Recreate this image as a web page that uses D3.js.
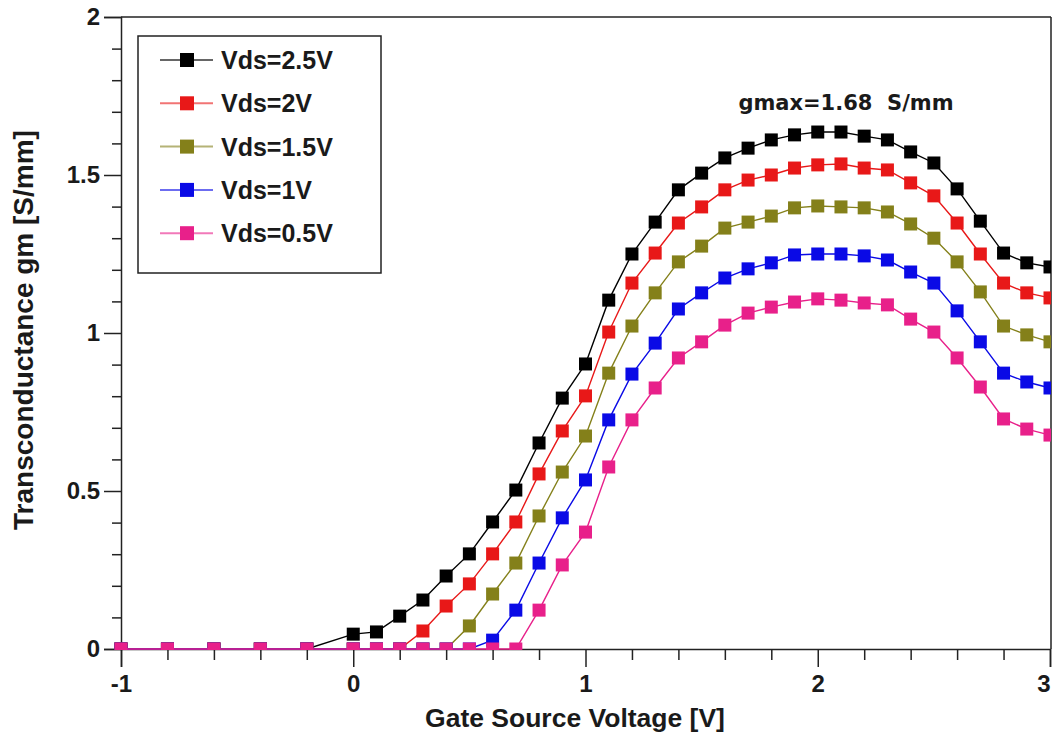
<!DOCTYPE html>
<html>
<head>
<meta charset="utf-8">
<script src="https://cdn.jsdelivr.net/npm/d3@7/dist/d3.min.js"></script>
<style>
  html, body { margin: 0; padding: 0; background: #fff; }
  svg { display: block; }
  text { font-family: "Liberation Sans", Arial, sans-serif; font-weight: bold; fill: #1a1a1a; }
</style>
</head>
<body>
<svg id="chart" width="1053" height="738"></svg>
<script>
// Gate-source voltage sweep [V]
const vgs = [-1, -0.8, -0.6, -0.4, -0.2,
  0, 0.1, 0.2, 0.3, 0.4, 0.5, 0.6, 0.7, 0.8, 0.9,
  1, 1.1, 1.2, 1.3, 1.4, 1.5, 1.6, 1.7, 1.8, 1.9,
  2, 2.1, 2.2, 2.3, 2.4, 2.5, 2.6, 2.7, 2.8, 2.9, 3];

// Transconductance gm [S/mm] for each drain-source bias
const gmVds25 = [0, 0, 0, 0, 0,
  0.047, 0.054, 0.104, 0.155, 0.231, 0.301, 0.402, 0.503, 0.652, 0.794,
  0.902, 1.104, 1.25, 1.351, 1.453, 1.506, 1.554, 1.585, 1.611, 1.627,
  1.636, 1.636, 1.623, 1.611, 1.573, 1.538, 1.456, 1.354, 1.253, 1.222, 1.209];
const gmVds20 = [0, 0, 0, 0, 0,
  0, 0, 0, 0.057, 0.136, 0.206, 0.301, 0.402, 0.554, 0.690,
  0.801, 1.003, 1.158, 1.253, 1.348, 1.399, 1.453, 1.484, 1.50, 1.522,
  1.532, 1.535, 1.522, 1.516, 1.475, 1.434, 1.348, 1.25, 1.158, 1.127, 1.111];
const gmVds15 = [0, 0, 0, 0, 0,
  0, 0, 0, 0, 0, 0.073, 0.174, 0.272, 0.421, 0.56,
  0.674, 0.873, 1.022, 1.127, 1.225, 1.275, 1.332, 1.351, 1.37, 1.396,
  1.402, 1.399, 1.396, 1.383, 1.345, 1.30, 1.225, 1.13, 1.022, 0.994, 0.972];
const gmVds10 = [0, 0, 0, 0, 0,
  0, 0, 0, 0, 0, 0, 0.028, 0.123, 0.272, 0.415,
  0.535, 0.725, 0.870, 0.968, 1.076, 1.127, 1.174, 1.203, 1.222, 1.247,
  1.25, 1.25, 1.244, 1.231, 1.193, 1.158, 1.07, 0.972, 0.873, 0.845, 0.826];
const gmVds05 = [0, 0, 0, 0, 0,
  0, 0, 0, 0, 0, 0, 0, 0, 0.123, 0.266,
  0.370, 0.576, 0.725, 0.826, 0.921, 0.972, 1.025, 1.063, 1.082, 1.098,
  1.108, 1.104, 1.095, 1.089, 1.044, 1.003, 0.921, 0.829, 0.728, 0.696, 0.677];

const seriesNames = ["Vds=2.5V", "Vds=2V", "Vds=1.5V", "Vds=1V", "Vds=0.5V"];
const seriesColors = ["#000000", "#e81818", "#84801a", "#0a0ae6", "#e8208a"];
const seriesValues = [gmVds25, gmVds20, gmVds15, gmVds10, gmVds05];

const xMajorTicks = [-1, 0, 1, 2, 3];
const xMinorTicks = [-0.8, -0.6, -0.4, -0.2, 0.2, 0.4, 0.6, 0.8, 1.2, 1.4, 1.6, 1.8, 2.2, 2.4, 2.6, 2.8];
const yMajorTicks = [0, 0.5, 1, 1.5, 2];
const yMinorTicks = [0.1, 0.2, 0.3, 0.4, 0.6, 0.7, 0.8, 0.9, 1.1, 1.2, 1.3, 1.4, 1.6, 1.7, 1.8, 1.9];

const annotation = "gmax=1.68  S/mm";
const xTitle = "Gate Source Voltage [V]";
const yTitle = "Transconductance gm [S/mm]";

// Plot frame edges in pixels
const plotLeft = 121, plotRight = 1051, plotTop = 17, plotBottom = 649;
const svg = d3.select("#chart");

const x = d3.scaleLinear().domain([-1, 3]).range([plotLeft, plotRight - 1]);
const y = d3.scaleLinear().domain([0, 2]).range([plotBottom, plotTop]);

// Frame: top and right edges
svg.append("line").attr("x1", plotLeft).attr("x2", plotRight).attr("y1", plotTop).attr("y2", plotTop)
  .attr("stroke", "#222").attr("stroke-width", 1.5);
svg.append("line").attr("x1", plotRight).attr("x2", plotRight).attr("y1", plotTop).attr("y2", plotBottom)
  .attr("stroke", "#222").attr("stroke-width", 1.5);

// Y axis (major ticks with labels, minor ticks without)
const yAxis = svg.append("g").attr("transform", `translate(${plotLeft},0)`)
  .call(d3.axisLeft(y).tickValues(yMajorTicks).tickSize(17).tickPadding(4)
    .tickFormat(d => String(d)));
svg.append("g").attr("transform", `translate(${plotLeft},0)`)
  .call(d3.axisLeft(y).tickValues(yMinorTicks).tickSize(9).tickFormat(""))
  .select(".domain").remove();

// X axis
const xAxis = svg.append("g").attr("transform", `translate(0,${plotBottom})`)
  .call(d3.axisBottom(x).tickValues(xMajorTicks).tickSize(18).tickPadding(8)
    .tickFormat(d => String(d)));
svg.append("g").attr("transform", `translate(0,${plotBottom})`)
  .call(d3.axisBottom(x).tickValues(xMinorTicks).tickSize(11).tickFormat(""))
  .select(".domain").remove();

svg.selectAll(".domain").attr("stroke", "#222").attr("stroke-width", 1.5);
svg.selectAll(".tick line").attr("stroke", "#222").attr("stroke-width", 1.5);
[yAxis, xAxis].forEach(ax => ax.selectAll(".tick text")
  .attr("font-size", 24).attr("fill", "#1a1a1a"));
// keep the last x label inside the page
xAxis.selectAll(".tick text").filter(d => d === 3).attr("text-anchor", "end").attr("dx", "0");

// Data area clipped to the plot frame
svg.append("clipPath").attr("id", "plotClip")
  .append("rect").attr("x", plotLeft - 10).attr("y", plotTop)
  .attr("width", plotRight - plotLeft + 10).attr("height", plotBottom - plotTop + 1);

const plot = svg.append("g").attr("clip-path", "url(#plotClip)");
const line = d3.line().x((d, i) => x(vgs[i])).y(d => y(d));
const mk = 13;

seriesValues.forEach((vals, s) => {
  const g = plot.append("g");
  g.append("path").datum(vals).attr("d", line)
    .attr("fill", "none").attr("stroke", seriesColors[s]).attr("stroke-width", 1.4);
  g.selectAll("rect").data(vals).join("rect")
    .attr("x", (d, i) => x(vgs[i]) - mk / 2)
    .attr("y", d => y(d) - mk / 2)
    .attr("width", mk).attr("height", mk)
    .attr("fill", seriesColors[s]);
});

// Legend
const legend = svg.append("g");
legend.append("rect").attr("x", 138).attr("y", 36).attr("width", 243).attr("height", 237)
  .attr("fill", "#fff").attr("stroke", "#222").attr("stroke-width", 1.5);
seriesNames.forEach((name, s) => {
  const ly = 60 + s * 43.3;
  legend.append("line").attr("x1", 160).attr("x2", 213).attr("y1", ly).attr("y2", ly)
    .attr("stroke", seriesColors[s]).attr("stroke-width", 2).attr("stroke-opacity", 0.6);
  legend.append("rect").attr("x", 187 - 7).attr("y", ly - 7).attr("width", 14).attr("height", 14)
    .attr("fill", seriesColors[s]);
  legend.append("text").attr("x", 221).attr("y", ly + 9).attr("font-size", 25).text(name);
});

// Peak annotation
svg.append("text").attr("x", 846).attr("y", 110).attr("text-anchor", "middle")
  .style("font-family", "'DejaVu Sans', Verdana, sans-serif")
  .style("white-space", "pre")
  .attr("font-size", 21)
  .text(annotation);

// Axis titles
svg.append("text").attr("x", 575).attr("y", 727).attr("text-anchor", "middle")
  .attr("font-size", 26.5).text(xTitle);
svg.append("text").attr("transform", "translate(33,330) rotate(-90)").attr("text-anchor", "middle")
  .attr("font-size", 28).text(yTitle);
</script>
</body>
</html>
